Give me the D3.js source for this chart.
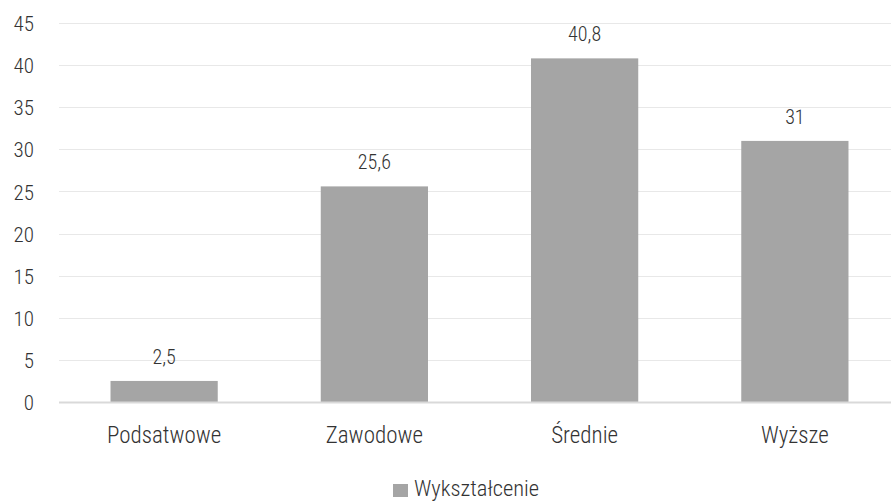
<!DOCTYPE html>
<html>
<head>
<meta charset="utf-8">
<script src="https://cdn.jsdelivr.net/npm/d3@7"></script>
<style>
  body { margin: 0; background: #fff; }
  svg text { font-family: "Roboto Condensed", "Liberation Sans Narrow", Roboto, sans-serif; font-weight: 300; fill: #333; }
</style>
</head>
<body>
<svg></svg>
<script>
const width = 891
const height = 501

// data
const categories = ['Podsatwowe', 'Zawodowe', 'Średnie', 'Wyższe']
const values = [2.5, 25.6, 40.8, 31]
const valueLabels = ['2,5', '25,6', '40,8', '31']
const yTicks = [0, 5, 10, 15, 20, 25, 30, 35, 40, 45]
const seriesName = 'Wykształcenie'

const margin = { left: 59, right: -9, top: 23, bottom: 99 }

const svg = d3.select('svg').attr('width', width).attr('height', height)

const x = d3.scaleBand()
  .domain(categories)
  .range([margin.left, width - margin.right])
  .paddingInner(0.49)
  .paddingOuter(0.245)

const y = d3.scaleLinear()
  .domain([0, 45])
  .range([height - margin.bottom, margin.top])

// gridlines
svg.append('g')
  .selectAll('line')
  .data(yTicks.filter(d => d > 0))
  .enter().append('line')
  .attr('x1', margin.left)
  .attr('x2', width)
  .attr('y1', d => Math.round(y(d)) + 0.5)
  .attr('y2', d => Math.round(y(d)) + 0.5)
  .style('stroke', '#e8e8e8')
  .style('stroke-width', '1px')

// y axis labels
const yAxis = svg.append('g')
  .attr('transform', `translate(${margin.left - 25},0)`)
  .call(d3.axisLeft(y).tickValues(yTicks).tickSize(0).tickPadding(0))
yAxis.select('.domain').remove()
yAxis.selectAll('text')
  .style('font-size', '21px')
  .attr('dy', '0.36em')

// bars
svg.append('g')
  .selectAll('rect')
  .data(values)
  .enter().append('rect')
  .attr('x', (d, i) => x(categories[i]))
  .attr('width', x.bandwidth())
  .attr('y', d => y(d))
  .attr('height', d => y(0) - y(d))
  .style('fill', '#a5a5a5')

// baseline
svg.append('line')
  .attr('x1', margin.left)
  .attr('x2', width)
  .attr('y1', y(0) + 0.5)
  .attr('y2', y(0) + 0.5)
  .style('stroke', '#d9d9d9')
  .style('stroke-width', '2px')

// value labels
svg.append('g')
  .selectAll('text')
  .data(values)
  .enter().append('text')
  .attr('x', (d, i) => x(categories[i]) + x.bandwidth() / 2)
  .attr('y', d => y(d) - 17)
  .attr('text-anchor', 'middle')
  .style('font-size', '20px')
  .text((d, i) => valueLabels[i])

// category axis
const xAxis = svg.append('g')
  .attr('transform', `translate(0,${y(0)})`)
  .call(d3.axisBottom(x).tickSize(0).tickPadding(0))
xAxis.select('.domain').remove()
xAxis.selectAll('text')
  .style('font-size', '23px')
  .attr('dy', null)
  .attr('y', 41)

// legend
const legend = svg.append('g').attr('transform', 'translate(393,484)')
legend.append('rect')
  .attr('width', 15).attr('height', 13)
  .style('fill', '#a5a5a5')
legend.append('text')
  .attr('x', 21)
  .attr('y', 12)
  .style('font-size', '22.5px')
  .text(seriesName)
</script>
</body>
</html>
